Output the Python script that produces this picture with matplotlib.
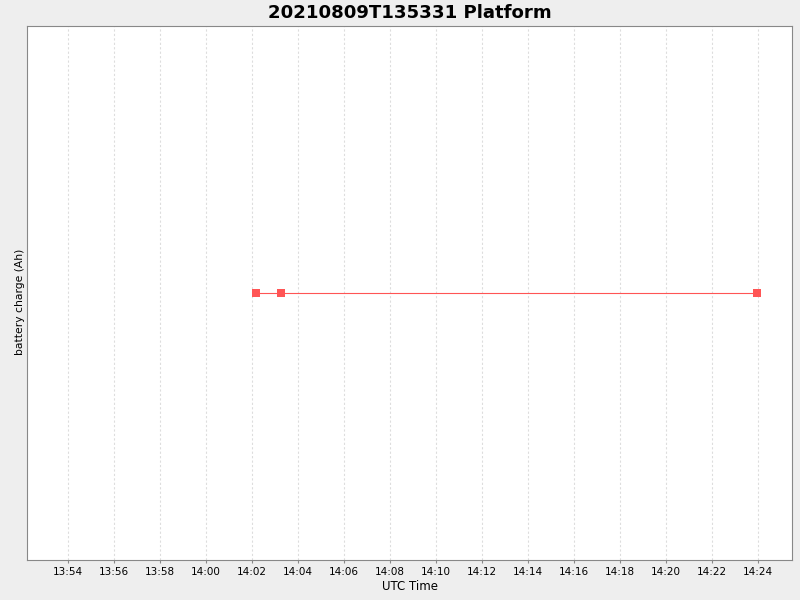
import matplotlib
matplotlib.use('Agg')
import matplotlib.pyplot as plt
import matplotlib.dates as mdates
from datetime import datetime

# данные
times = ['2021-08-09 14:02:10', '2021-08-09 14:03:15', '2021-08-09 14:23:57']
charge = [0.0, 0.0, 0.0]

t = [datetime.strptime(s, '%Y-%m-%d %H:%M:%S') for s in times]

fig = plt.figure(figsize=(8, 6), dpi=100, facecolor='#EEEEEE')
ax = fig.add_axes([27 / 800, 40 / 600, 765 / 800, 534 / 600])
ax.set_facecolor('white')

ax.plot(t, charge, color='#FF5555', linewidth=0.8, marker='s', markersize=5.2,
        markeredgewidth=0)

ax.set_xlim(datetime(2021, 8, 9, 13, 52, 13), datetime(2021, 8, 9, 14, 25, 29))
ax.set_ylim(-1, 1)

ax.xaxis.set_major_locator(mdates.MinuteLocator(byminute=range(0, 60, 2)))
ax.xaxis.set_major_formatter(mdates.DateFormatter('%H:%M'))
ax.tick_params(axis='x', labelsize=7.5, length=2, color='#888888', pad=3)
ax.set_yticks([])

ax.grid(axis='x', color='#DDDDDD', linestyle=(0, (2, 2)), linewidth=0.8)
for s in ax.spines.values():
    s.set_color('#888888')

ax.set_title('20210809T135331 Platform', fontsize=13.1, fontweight='bold', pad=5.5)
ax.set_xlabel('UTC Time', fontsize=8.5, labelpad=2)
# подпись оси Y
fig.text(20 / 800, 1 - 302 / 600, 'battery charge (Ah)', fontsize=7.75,
         rotation=90, ha='center', va='center')

plt.savefig('out.png', dpi=100, facecolor=fig.get_facecolor())
